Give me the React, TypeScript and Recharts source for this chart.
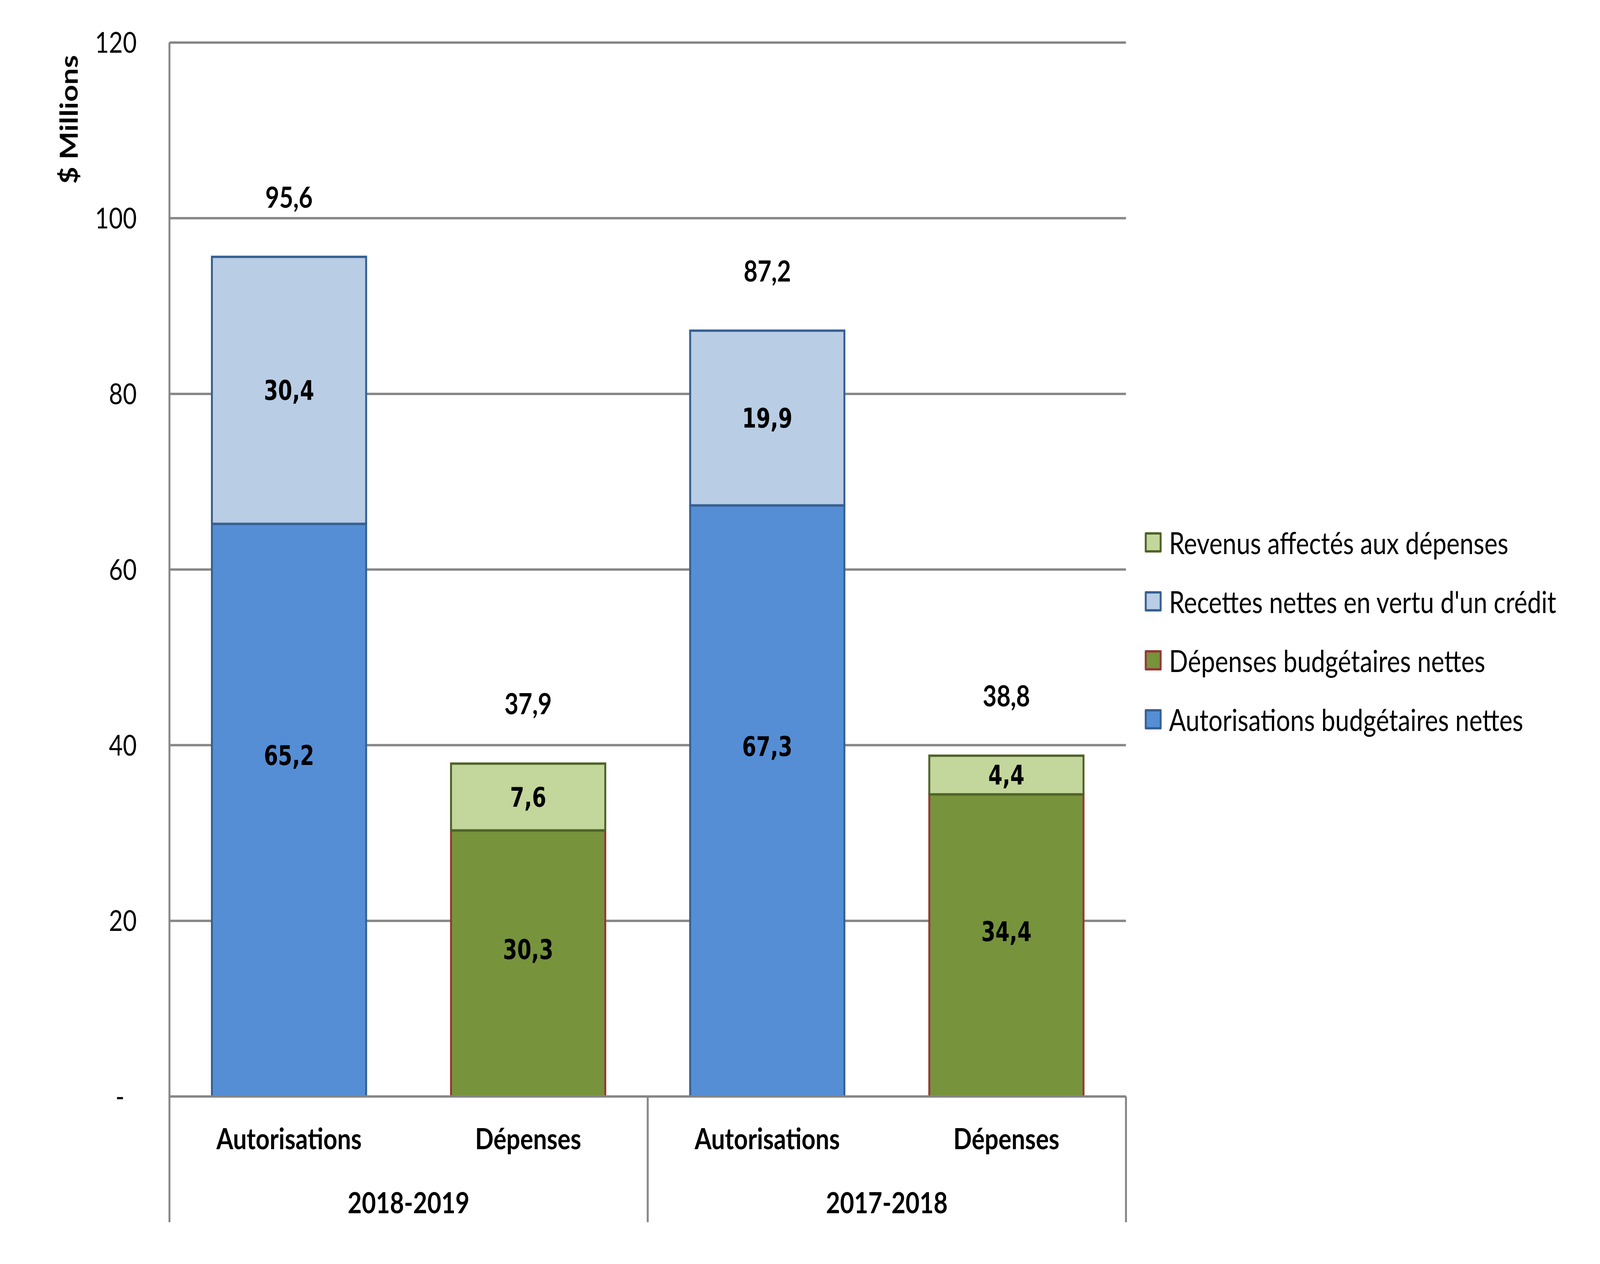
import React from "react";
import {
  ComposedChart,
  Bar,
  Line,
  XAxis,
  YAxis,
  CartesianGrid,
  Legend,
  LabelList,
  Label,
} from "recharts";

const categories = ["Autorisations", "Dépenses", "Autorisations", "Dépenses"];
const years = ["2018-2019", "2018-2019", "2017-2018", "2017-2018"];
const autorisationsNettes = [65.2, null, 67.3, null];
const depensesNettes = [null, 30.3, null, 34.4];
const recettesNettes = [30.4, null, 19.9, null];
const revenusAffectes = [null, 7.6, null, 4.4];
const totals = [95.6, 37.9, 87.2, 38.8];
const yTicks = [0, 20, 40, 60, 80, 100, 120];

const seriesNames = {
  auto: "Autorisations budgétaires nettes",
  dep: "Dépenses budgétaires nettes",
  rec: "Recettes nettes en vertu d'un crédit",
  rev: "Revenus affectés aux dépenses",
};

const chartData = categories.map((type, i) => ({
  type,
  year: years[i],
  auto: autorisationsNettes[i],
  dep: depensesNettes[i],
  rec: recettesNettes[i],
  rev: revenusAffectes[i],
  total: totals[i],
}));

const GRAY = "#868686";
const FONT = "Lato, 'Open Sans', sans-serif";
const LABEL_FONT = "'DejaVu Sans Condensed', 'DejaVu Sans', sans-serif";

const colors = {
  auto: { fill: "#558ED5", stroke: "#376092" },
  dep: { fill: "#77933C", stroke: "#953735" },
  rec: { fill: "#B9CDE5", stroke: "#376092" },
  rev: { fill: "#C3D69B", stroke: "#4F6228" },
};

// legend goes top to bottom, reversed from the stack
const legendKeys: (keyof typeof seriesNames)[] = ["rev", "rec", "dep", "auto"];

const fmt = (v: number) => v.toFixed(1).replace(".", ",");

function segmentLabel(shift: number) {
  return (props: any) => {
    const vb = props.viewBox || props;
    const raw = props.value;
    const v = Array.isArray(raw) ? raw[1] - raw[0] : raw;
    if (v == null || v === 0 || isNaN(v)) return null;
    const { x, y, width, height } = vb;
    return (
      <text
        x={x + width / 2}
        y={y + height / 2 + shift}
        textAnchor="middle"
        dominantBaseline="central"
        fontFamily={LABEL_FONT}
        fontStretch="condensed"
        fontWeight="bold"
        fontSize={70}
        fill="#000"
      >
        {fmt(v)}
      </text>
    );
  };
}

const totalLabel = (props: any) => {
  const vb = props.viewBox || props;
  const x = props.x ?? vb.x;
  const y = props.y ?? vb.y;
  if (props.value == null) return null;
  return (
    <text
      x={x}
      y={y - 155}
      textAnchor="middle"
      dominantBaseline="central"
      fontFamily={FONT}
      fontWeight="bold"
      fontSize={74}
      fill="#000"
    >
      {fmt(props.value)}
    </text>
  );
};

const CategoryTick = (props: any) => {
  const { x, y, payload } = props;
  const idx = payload.index ?? props.index;
  const half = payload.offset ?? 369;
  const last = idx === categories.length - 1;
  const groupStart = idx === 0 || years[idx] !== years[idx - 1];
  return (
    <g>
      <text
        x={x}
        y={y + 106}
        textAnchor="middle"
        dominantBaseline="central"
        fontFamily={FONT}
        fontWeight="bold"
        fontSize={75}
        fill="#000"
      >
        {payload.value}
      </text>
      {groupStart && (
        <>
          <line x1={x - half} x2={x - half} y1={y} y2={y + 322} stroke={GRAY} strokeWidth={6} />
          <text
            x={x + half}
            y={y + 270}
            textAnchor="middle"
            dominantBaseline="central"
            fontFamily={FONT}
            fontWeight="bold"
            fontSize={75}
            fill="#000"
          >
            {years[idx]}
          </text>
        </>
      )}
      {last && (
        <line x1={x + half} x2={x + half} y1={y} y2={y + 322} stroke={GRAY} strokeWidth={6} />
      )}
    </g>
  );
};

const renderLegend = () => (
  <div style={{ paddingLeft: 58 }}>
    {legendKeys.map((k) => (
      <div key={k} style={{ display: "flex", alignItems: "center", height: 151 }}>
        <span
          style={{
            display: "inline-block",
            width: 40,
            height: 40,
            background: colors[k].fill,
            border: `6px solid ${colors[k].stroke}`,
            borderRadius: 3,
          }}
        />
        <span
          style={{
            marginLeft: 23,
            fontFamily: FONT,
            fontSize: 77,
            color: "#000",
            whiteSpace: "nowrap",
          }}
        >
          {seriesNames[k]}
        </span>
      </div>
    ))}
  </div>
);

const PAGE_W = 4938;
const PAGE_H = 3237;

export default function App() {
  // the browser may give a narrower viewport than the reference; scale the page to fit it
  const vw = typeof window !== "undefined" ? window.innerWidth : PAGE_W;
  const vh = typeof window !== "undefined" ? window.innerHeight : PAGE_H;
  const kx = vw / PAGE_W;
  const ky = vh / PAGE_H;

  return (
    <div
      style={{
        position: "fixed",
        left: 0,
        top: 0,
        width: "100vw",
        height: "100vh",
        overflow: "hidden",
        background: "#fff",
      }}
    >
      <div
        style={{
          width: PAGE_W,
          height: PAGE_H,
          padding: 8,
          boxSizing: "border-box",
          transform: `scale(${kx}, ${ky})`,
          transformOrigin: "0 0",
        }}
      >
        <ComposedChart
          width={4922}
          height={3221}
          data={chartData}
          margin={{ top: 101, right: 1455, bottom: 91, left: 0 }}
          barCategoryGap="17.75%"
        >
          <CartesianGrid vertical={false} stroke={GRAY} strokeWidth={6} />
          <XAxis
            dataKey="type"
            height={330}
            axisLine={{ stroke: GRAY, strokeWidth: 6 }}
            tickLine={false}
            tickSize={0}
            tickMargin={0}
            interval={0}
            tick={<CategoryTick />}
          />
          <YAxis
            width={515}
            domain={[0, 120]}
            ticks={yTicks}
            axisLine={{ stroke: GRAY, strokeWidth: 6 }}
            tickLine={false}
            tickSize={0}
            tickMargin={101}
            tickFormatter={(v: number) => (v === 0 ? "-\u00a0\u00a0" : String(v))}
            tick={{ fontFamily: FONT, fontSize: 74, fill: "#000" }}
          >
            <Label
              content={() => (
                <text
                  x={202}
                  y={298}
                  transform="rotate(-90 202 298)"
                  textAnchor="middle"
                  dominantBaseline="central"
                  fontFamily={FONT}
                  fontWeight="bold"
                  fontSize={76}
                  fill="#000"
                >
                  $ Millions
                </text>
              )}
            />
          </YAxis>
          {/* centered/middle keeps the legend out of the offset maths; placed by wrapperStyle */}
          <Legend
            layout="vertical"
            align="center"
            verticalAlign="middle"
            content={renderLegend}
            wrapperStyle={{ left: 3467, top: 1305, width: 1455 }}
          />
          <Bar
            dataKey="auto"
            name={seriesNames.auto}
            stackId="a"
            fill={colors.auto.fill}
            stroke={colors.auto.stroke}
            strokeWidth={6}
            isAnimationActive={false}
          >
            <LabelList dataKey="auto" content={segmentLabel(-140)} />
          </Bar>
          <Bar
            dataKey="dep"
            name={seriesNames.dep}
            stackId="a"
            fill={colors.dep.fill}
            stroke={colors.dep.stroke}
            strokeWidth={6}
            isAnimationActive={false}
          >
            <LabelList dataKey="dep" content={segmentLabel(-36)} />
          </Bar>
          <Bar
            dataKey="rec"
            name={seriesNames.rec}
            stackId="a"
            fill={colors.rec.fill}
            stroke={colors.rec.stroke}
            strokeWidth={6}
            isAnimationActive={false}
          >
            <LabelList dataKey="rec" content={segmentLabel(0)} />
          </Bar>
          <Bar
            dataKey="rev"
            name={seriesNames.rev}
            stackId="a"
            fill={colors.rev.fill}
            stroke={colors.rev.stroke}
            strokeWidth={6}
            isAnimationActive={false}
          >
            <LabelList dataKey="rev" content={segmentLabel(0)} />
          </Bar>
          <Line
            dataKey="total"
            stroke="none"
            dot={false}
            activeDot={false}
            legendType="none"
            isAnimationActive={false}
          >
            <LabelList dataKey="total" content={totalLabel} />
          </Line>
        </ComposedChart>
      </div>
    </div>
  );
}
